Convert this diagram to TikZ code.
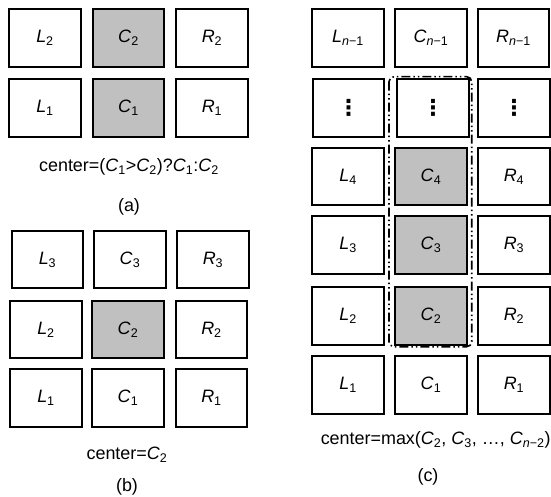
\documentclass[tikz,border=0pt]{standalone}
\usepackage{fontspec}
\setmainfont{Liberation Sans}
\newfontfamily\dejavu{DejaVu Sans}
\definecolor{cellgray}{RGB}{192,192,192}
\newcommand{\vx}[2]{\textit{#1}\textsubscript{#2}}
\newcommand{\vn}[2]{\textit{#1}\textsubscript{\textit{n}−#2}}
\newcommand{\vdts}{{\dejavu\bfseries\fontsize{22}{24}\selectfont ⋮}}
\tikzset{
  cell/.style={draw=black, line width=1.7bp, minimum width=71.5bp, minimum height=57.5bp,
    inner sep=0pt, fill=white, font=\fontsize{18}{21}\selectfont},
  hl/.style={cell, fill=cellgray},
  captext/.style={inner sep=0pt, font=\fontsize{18}{21}\selectfont},
  grp/.style={line width=1.6bp, rounded corners=5bp,
    dash pattern=on 9bp off 3bp on 1.5bp off 3bp on 1.5bp off 3bp}
}
\begin{document}
\begin{tikzpicture}[x=1bp,y=-1bp]
\useasboundingbox (0,0) rectangle (551,497);
% (a)
\node[cell] (aL2) at (45,38) {\vx{L}{2}};
\node[hl]   (aC2) at (128.5,38) {\vx{C}{2}};
\node[cell] (aR2) at (212,38) {\vx{R}{2}};
\node[cell] (aL1) at (45,108) {\vx{L}{1}};
\node[hl]   (aC1) at (128.5,108) {\vx{C}{1}};
\node[cell] (aR1) at (212,108) {\vx{R}{1}};
\node[captext] (acap) at (129,167) {center=(\vx{C}{1}>\vx{C}{2})?\vx{C}{1}:\vx{C}{2}};
\node[captext] (alab) at (129,207) {(a)};
% (b)
\node[cell] (bL3) at (47.5,259.5) {\vx{L}{3}};
\node[cell] (bC3) at (130,259.5) {\vx{C}{3}};
\node[cell] (bR3) at (213,259.5) {\vx{R}{3}};
\node[cell] (bL2) at (46,329.5) {\vx{L}{2}};
\node[hl]   (bC2) at (128,329.5) {\vx{C}{2}};
\node[cell] (bR2) at (211.5,329.5) {\vx{R}{2}};
\node[cell] (bL1) at (46,398) {\vx{L}{1}};
\node[cell] (bC1) at (128,398) {\vx{C}{1}};
\node[cell] (bR1) at (211.5,398) {\vx{R}{1}};
\node[captext] (bcap) at (127,455) {center=\vx{C}{2}};
\node[captext] (blab) at (127,487) {(b)};
% (c)
\node[cell] (cL6) at (348,38) {\vn{L}{1}};
\node[cell] (cC6) at (431,38) {\vn{C}{1}};
\node[cell] (cR6) at (513.5,38) {\vn{R}{1}};
\node[cell] (cL5) at (348.5,108) {\vdts};
\node[cell] (cC5) at (433,108) {\vdts};
\node[cell] (cR5) at (514,108) {\vdts};
\node[cell] (cL4) at (348,176.5) {\vx{L}{4}};
\node[hl]   (cC4) at (431,176.5) {\vx{C}{4}};
\node[cell] (cR4) at (514,176.5) {\vx{R}{4}};
\node[cell] (cL3) at (348,245) {\vx{L}{3}};
\node[hl]   (cC3) at (431,245) {\vx{C}{3}};
\node[cell] (cR3) at (514,245) {\vx{R}{3}};
\node[cell] (cL2) at (348,316) {\vx{L}{2}};
\node[hl]   (cC2) at (431,316) {\vx{C}{2}};
\node[cell] (cR2) at (514,316) {\vx{R}{2}};
\node[cell] (cL1) at (348,385) {\vx{L}{1}};
\node[cell] (cC1) at (431,385) {\vx{C}{1}};
\node[cell] (cR1) at (514,385) {\vx{R}{1}};
\draw[grp] (389,76.7) rectangle (471.7,346.7);
\node[captext] (ccap) at (435.7,440) {center=max(\vx{C}{2}, \vx{C}{3}, …, \vn{C}{2})};
\node[captext] (clab) at (428,477) {(c)};
\end{tikzpicture}
\end{document}
